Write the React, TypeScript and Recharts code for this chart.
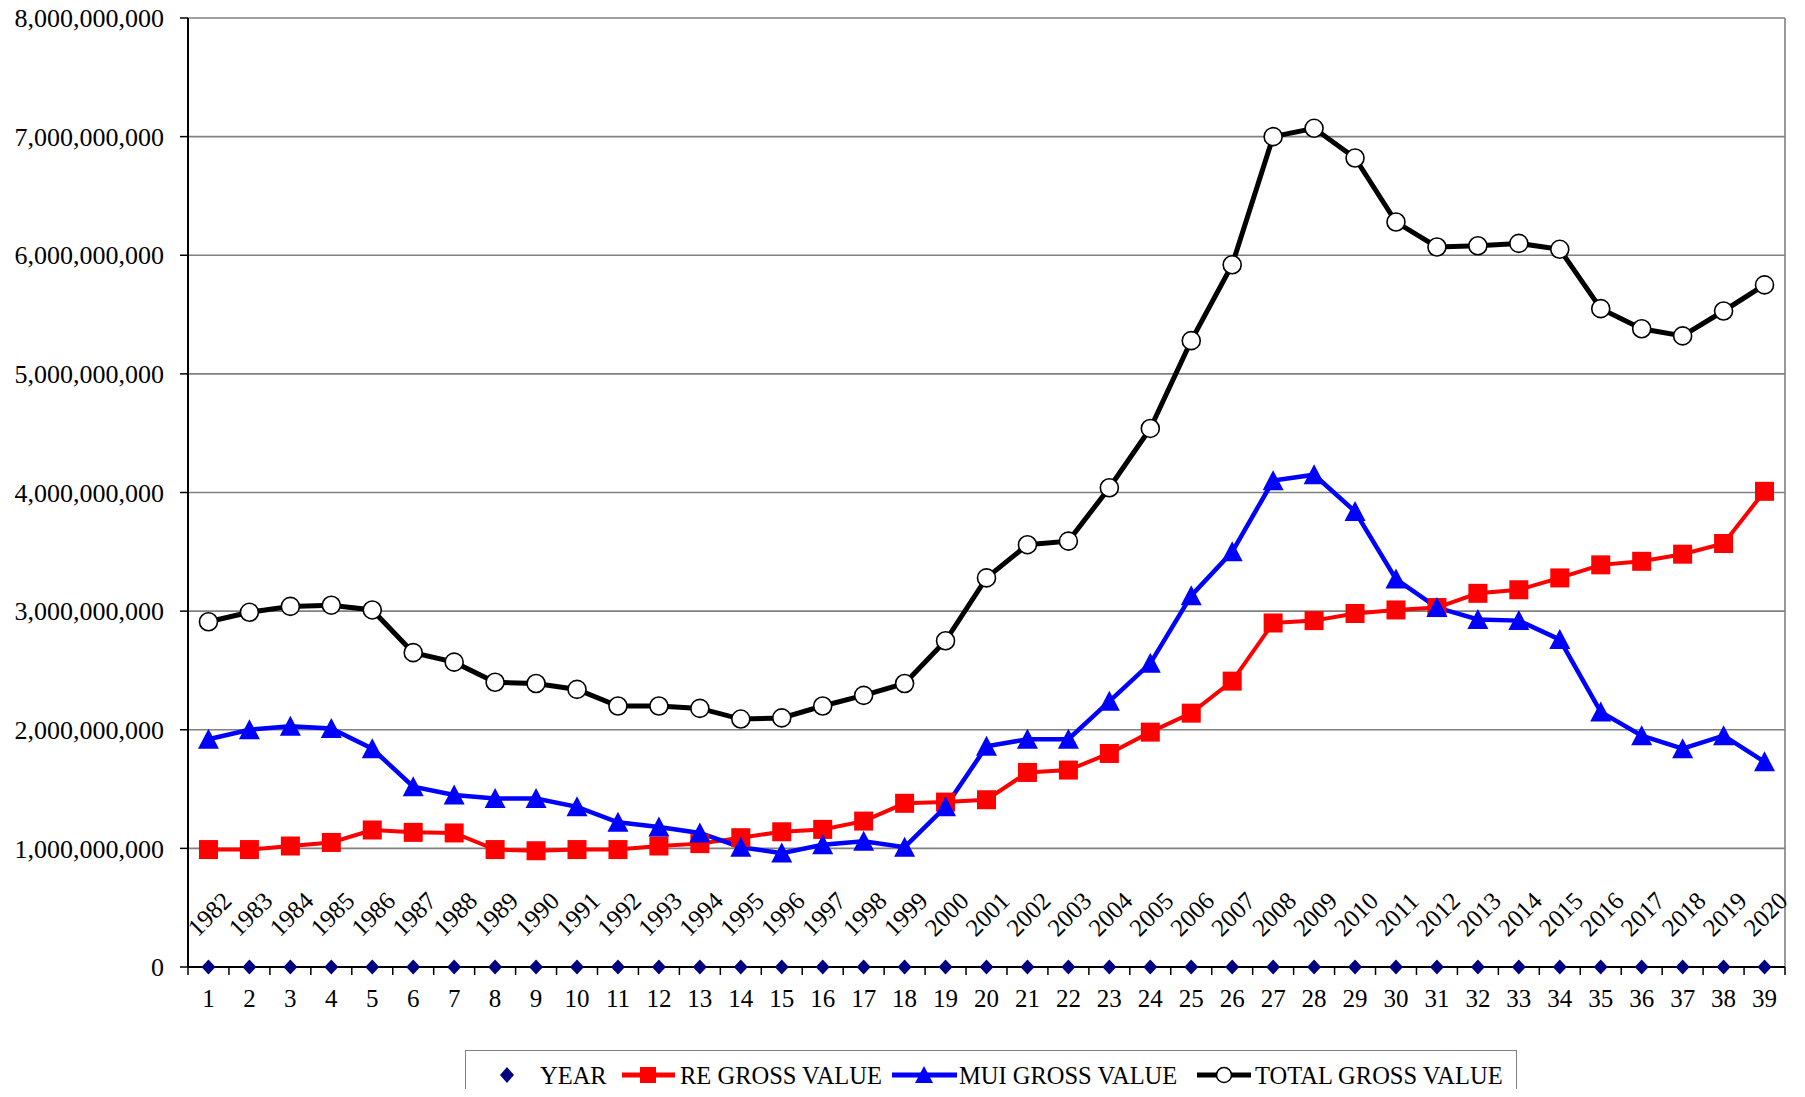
import React from 'react';
import { LineChart, Line, XAxis, YAxis, CartesianGrid, LabelList } from 'recharts';

const FONT = '"Liberation Serif", "Times New Roman", serif';

const categories = [
  '1', '2', '3', '4', '5', '6', '7', '8', '9', '10', '11', '12', '13', '14', '15', '16', '17', '18', '19', '20',
  '21', '22', '23', '24', '25', '26', '27', '28', '29', '30', '31', '32', '33', '34', '35', '36', '37', '38', '39',
];

const years = [
  '1982', '1983', '1984', '1985', '1986', '1987', '1988', '1989', '1990', '1991', '1992', '1993', '1994',
  '1995', '1996', '1997', '1998', '1999', '2000', '2001', '2002', '2003', '2004', '2005', '2006', '2007',
  '2008', '2009', '2010', '2011', '2012', '2013', '2014', '2015', '2016', '2017', '2018', '2019', '2020',
];

const yearSeries = [
  0, 0, 0, 0, 0, 0, 0, 0, 0, 0, 0, 0, 0, 0, 0, 0, 0, 0, 0, 0,
  0, 0, 0, 0, 0, 0, 0, 0, 0, 0, 0, 0, 0, 0, 0, 0, 0, 0, 0,
];

const reGross = [
  990000000, 990000000, 1020000000, 1050000000, 1155000000, 1135000000, 1130000000, 990000000, 980000000, 990000000,
  990000000, 1020000000, 1040000000, 1090000000, 1140000000, 1160000000, 1230000000, 1380000000, 1390000000, 1410000000,
  1640000000, 1660000000, 1800000000, 1980000000, 2140000000, 2410000000, 2900000000, 2920000000, 2980000000, 3010000000,
  3030000000, 3150000000, 3180000000, 3280000000, 3390000000, 3420000000, 3480000000, 3570000000, 4010000000,
];

const muiGross = [
  1920000000, 2000000000, 2030000000, 2010000000, 1840000000, 1520000000, 1450000000, 1420000000, 1420000000, 1350000000,
  1220000000, 1180000000, 1130000000, 1010000000, 960000000, 1030000000, 1060000000, 1010000000, 1350000000, 1860000000,
  1920000000, 1920000000, 2240000000, 2560000000, 3130000000, 3500000000, 4100000000, 4150000000, 3840000000, 3270000000,
  3030000000, 2930000000, 2920000000, 2760000000, 2150000000, 1950000000, 1840000000, 1950000000, 1730000000,
];

const totalGross = [
  2910000000, 2990000000, 3040000000, 3050000000, 3010000000, 2650000000, 2570000000, 2400000000, 2390000000, 2340000000,
  2200000000, 2200000000, 2180000000, 2090000000, 2100000000, 2200000000, 2290000000, 2390000000, 2750000000, 3280000000,
  3560000000, 3590000000, 4040000000, 4540000000, 5280000000, 5920000000, 7000000000, 7070000000, 6820000000, 6280000000,
  6070000000, 6080000000, 6100000000, 6050000000, 5550000000, 5380000000, 5320000000, 5530000000, 5750000000,
];

const yTicks = [0, 1000000000, 2000000000, 3000000000, 4000000000, 5000000000, 6000000000, 7000000000, 8000000000];

const seriesNames = ['YEAR', 'RE GROSS VALUE', 'MUI GROSS VALUE', 'TOTAL GROSS VALUE'];

const data = categories.map((c, i) => ({
  idx: c,
  year: years[i],
  yr: yearSeries[i],
  re: reGross[i],
  mui: muiGross[i],
  total: totalGross[i],
}));

const HALF = 20.47;

const XTick = (props: any) => {
  const { x, y, payload, index } = props;
  return (
    <g>
      <line x1={x - HALF} x2={x - HALF} y1={y} y2={y + 8} stroke="#000" strokeWidth={1.5} />
      {index === categories.length - 1 && (
        <line x1={x + HALF} x2={x + HALF} y1={y} y2={y + 8} stroke="#000" strokeWidth={1.5} />
      )}
      <text x={x} y={y + 31} textAnchor="middle" dominantBaseline="central" fontSize={25} fontFamily={FONT} fill="#000">
        {payload.value}
      </text>
    </g>
  );
};

const Diamond = (props: any) => {
  const { cx, cy } = props;
  if (cx == null || cy == null) return <g key={props.index} />;
  return (
    <polygon
      key={props.index}
      points={`${cx},${cy - 7.5} ${cx + 7},${cy} ${cx},${cy + 7.5} ${cx - 7},${cy}`}
      fill="#000080"
    />
  );
};

const Square = (props: any) => {
  const { cx, cy } = props;
  if (cx == null || cy == null) return <g key={props.index} />;
  return <rect key={props.index} x={cx - 9.5} y={cy - 9.5} width={19} height={19} fill="#FF0000" />;
};

const Triangle = (props: any) => {
  const { cx, cy } = props;
  if (cx == null || cy == null) return <g key={props.index} />;
  return (
    <polygon
      key={props.index}
      points={`${cx},${cy - 10.5} ${cx - 10.5},${cy + 9.5} ${cx + 10.5},${cy + 9.5}`}
      fill="#0000FF"
    />
  );
};

const Circle = (props: any) => {
  const { cx, cy } = props;
  if (cx == null || cy == null) return <g key={props.index} />;
  return <circle key={props.index} cx={cx} cy={cy} r={9} fill="#FFFFFF" stroke="#000" strokeWidth={1.6} />;
};

const YearLabel = (props: any) => {
  const { x, y, value } = props;
  if (x == null || y == null) return null;
  const lx = x + 1;
  const ly = y - 53;
  return (
    <text
      x={lx}
      y={ly}
      transform={`rotate(-45, ${lx}, ${ly})`}
      textAnchor="middle"
      dominantBaseline="central"
      fontSize={25}
      fontFamily={FONT}
      fill="#000"
    >
      {value}
    </text>
  );
};

const LegendBox = () => (
  <div
    style={{
      position: 'absolute',
      left: 457,
      top: 1042,
      width: 1052,
      height: 70,
      border: '1.5px solid #808080',
      boxSizing: 'border-box',
      background: '#fff',
    }}
  >
    <svg width={1050} height={68} style={{ display: 'block' }}>
      <g fontFamily={FONT} fontSize={24.5} fill="#000">
        <polygon points="41,16 48,24 41,32 34,24" fill="#000080" />
        <text x={74} y={24} dominantBaseline="central">{seriesNames[0]}</text>

        <line x1={156} x2={209} y1={24} y2={24} stroke="#FF0000" strokeWidth={5} />
        <rect x={174} y={16} width={16} height={16} fill="#FF0000" />
        <text x={214} y={24} dominantBaseline="central">{seriesNames[1]}</text>

        <line x1={426} x2={491} y1={24} y2={24} stroke="#0000FF" strokeWidth={5} />
        <polygon points="458,15 449,32 467,32" fill="#0000FF" />
        <text x={493} y={24} dominantBaseline="central">{seriesNames[2]}</text>

        <line x1={731} x2={785} y1={24} y2={24} stroke="#000" strokeWidth={5} />
        <circle cx={758} cy={24} r={7.5} fill="#fff" stroke="#000" strokeWidth={1.6} />
        <text x={789} y={24} dominantBaseline="central">{seriesNames[3]}</text>
      </g>
    </svg>
  </div>
);

export default function App() {
  return (
    <div
      style={{
        position: 'relative',
        width: 1797,
        height: 1089,
        marginBottom: -8,
        overflow: 'hidden',
        fontFamily: FONT,
        background: '#fff',
      }}
    >
      <LineChart width={1797} height={1089} data={data} margin={{ top: 10, right: 20, left: 0, bottom: 70 }}>
        <CartesianGrid
          horizontal={true}
          vertical={true}
          verticalPoints={[1777]}
          stroke="#808080"
          strokeWidth={1.6}
        />
        <XAxis
          dataKey="idx"
          type="category"
          interval={0}
          height={60}
          padding={{ left: 20.47, right: 20.47 }}
          axisLine={{ stroke: '#000', strokeWidth: 2 }}
          tickLine={false}
          tickSize={0}
          tickMargin={0}
          tick={<XTick />}
        />
        <YAxis
          type="number"
          domain={[0, 8000000000]}
          ticks={yTicks}
          interval={0}
          width={180}
          tickSize={8}
          tickMargin={16}
          axisLine={{ stroke: '#000', strokeWidth: 2 }}
          tickLine={{ stroke: '#000', strokeWidth: 1.5 }}
          tick={{ fontSize: 26, fill: '#000', fontFamily: FONT }}
          tickFormatter={(v: number) => v.toLocaleString('en-US')}
        />
        <Line
          dataKey="yr"
          name={seriesNames[0]}
          stroke="none"
          dot={Diamond}
          activeDot={false}
          isAnimationActive={false}
        >
          <LabelList dataKey="year" content={YearLabel} />
        </Line>
        <Line
          dataKey="re"
          name={seriesNames[1]}
          type="linear"
          stroke="#FF0000"
          strokeWidth={4}
          dot={Square}
          activeDot={false}
          isAnimationActive={false}
        />
        <Line
          dataKey="mui"
          name={seriesNames[2]}
          type="linear"
          stroke="#0000FF"
          strokeWidth={4.5}
          dot={Triangle}
          activeDot={false}
          isAnimationActive={false}
        />
        <Line
          dataKey="total"
          name={seriesNames[3]}
          type="linear"
          stroke="#000"
          strokeWidth={5}
          dot={Circle}
          activeDot={false}
          isAnimationActive={false}
        />
      </LineChart>
      <LegendBox />
    </div>
  );
}
